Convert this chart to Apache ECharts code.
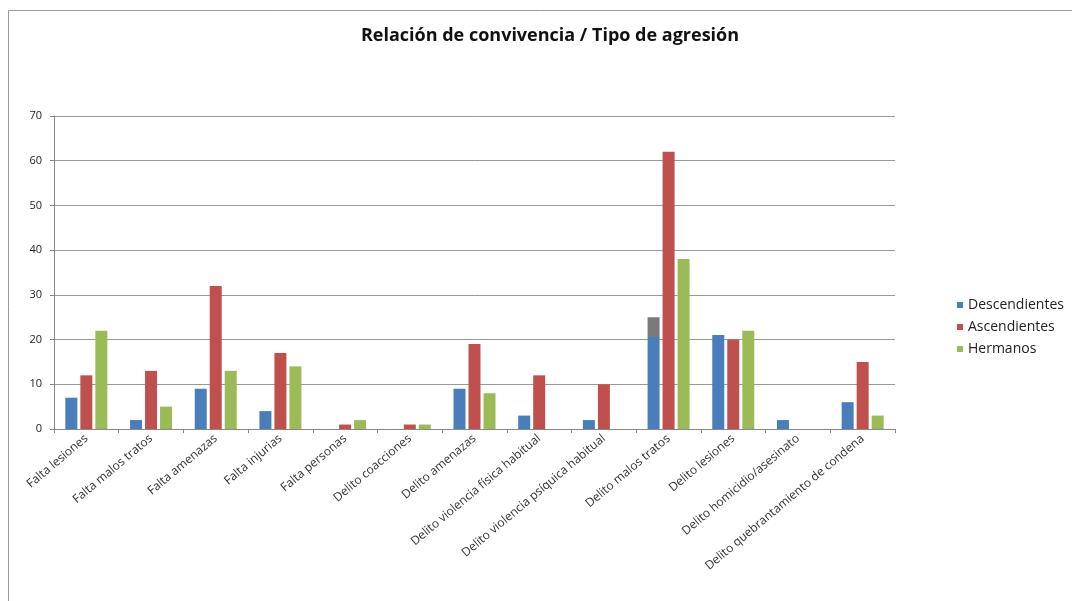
<!DOCTYPE html>
<html><head><meta charset="utf-8">
<script src="https://cdn.jsdelivr.net/npm/echarts@6/dist/echarts.min.js"></script>
<style>html,body{margin:0;padding:0;background:#fff}#c{width:1072px;height:601px}</style>
</head><body><div id="c"></div>
<script>
const categories = ["Falta lesiones","Falta malos tratos","Falta amenazas","Falta injurias","Falta personas","Delito coacciones","Delito amenazas","Delito violencia física habitual","Delito violencia psíquica habitual","Delito malos tratos","Delito lesiones","Delito homicidio/asesinato","Delito quebrantamiento de condena"];
const descendientes = [7, 2, 9, 4, 0, 0, 9, 3, 2, 25, 21, 2, 6];
const ascendientes = [12, 13, 32, 17, 1, 1, 19, 12, 10, 62, 20, 0, 15];
const hermanos = [22, 5, 13, 14, 2, 1, 8, 0, 0, 38, 22, 0, 3];
const yTicks = [0, 10, 20, 30, 40, 50, 60, 70];

const chart = echarts.init(document.getElementById('c'));
const descData = descendientes.map((v, i) => i === 9 ? {
  value: v,
  itemStyle: { color: { type: 'linear', x: 0, y: 0, x2: 0, y2: 1, colorStops: [
    { offset: 0, color: '#7a7a7a' }, { offset: 0.18, color: '#7a7a7a' },
    { offset: 0.18, color: '#4a7ebb' }, { offset: 1, color: '#4a7ebb' }] } }
} : v);
chart.setOption({
  animation: false,
  title: { text: 'Relación de convivencia / Tipo de agresión', left: 545, top: 22, textAlign: 'center',
    textStyle: { fontFamily: 'Open Sans', fontSize: 18, fontWeight: 'bold', color: '#111' } },
  graphic: [{ type: 'rect', shape: { x: 8.5, y: 10.5, width: 1080, height: 600 },
    style: { fill: 'none', stroke: '#9a9a9a', lineWidth: 1 } }],
  legend: { orient: 'vertical', left: 952, top: 293, itemWidth: 6, itemHeight: 6, itemGap: 8,
    icon: 'rect', textStyle: { fontFamily: 'Open Sans', fontSize: 14, color: '#222' },
    data: ['Descendientes', 'Ascendientes', 'Hermanos'] },
  grid: { left: 54, right: 177, top: 116, bottom: 172 },
  xAxis: { type: 'category', data: categories,
    axisLine: { lineStyle: { color: '#888' } },
    axisTick: { show: true, length: 4, lineStyle: { color: '#888' } },
    axisLabel: { rotate: 40, interval: 0, fontFamily: 'Open Sans', fontSize: 12, color: '#333', margin: 8 } },
  yAxis: { type: 'value', min: 0, max: 70, interval: 10,
    axisLine: { show: true, lineStyle: { color: '#888' } },
    axisTick: { show: true, length: 4, lineStyle: { color: '#888' } },
    splitLine: { lineStyle: { color: '#999' } },
    axisLabel: { fontFamily: 'Open Sans', fontSize: 11, color: '#222', margin: 12,
      formatter: v => yTicks.includes(v) ? String(v) : '' } },
  series: [
    { name: 'Descendientes', type: 'bar', data: descData, barWidth: 12, barGap: '25%', itemStyle: { color: '#4a7ebb' } },
    { name: 'Ascendientes', type: 'bar', data: ascendientes, barWidth: 12, barGap: '25%', itemStyle: { color: '#c0504d' } },
    { name: 'Hermanos', type: 'bar', data: hermanos, barWidth: 12, barGap: '25%', itemStyle: { color: '#9bbb59' } }
  ]
});
</script></body></html>
